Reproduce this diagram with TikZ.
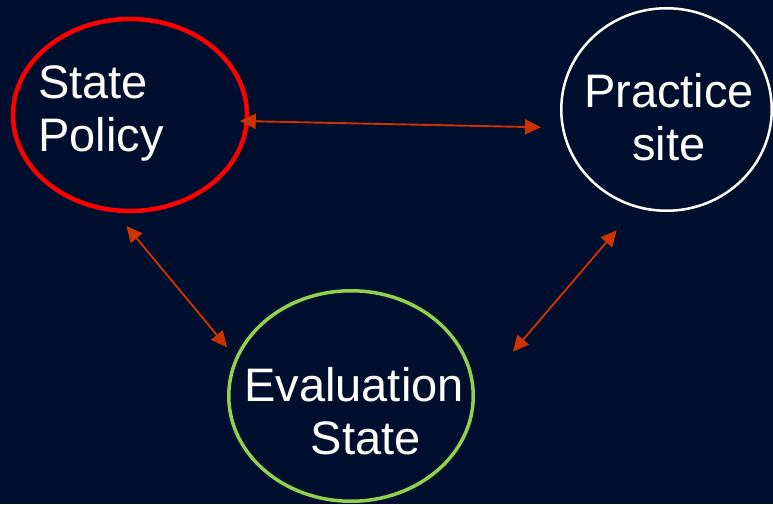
\documentclass[tikz,border=0pt]{standalone}
\usepackage{fontspec}
\setmainfont{Liberation Sans}
\usepackage{tikz}
\usetikzlibrary{arrows.meta,shapes.geometric}
\definecolor{navy}{HTML}{000F2E}
\definecolor{rust}{HTML}{CC3300}
\definecolor{leaf}{HTML}{92D050}

\begin{document}
\begin{tikzpicture}[x=1pt,y=1pt]
	\tikzstyle{oval}=[ellipse,inner sep=0pt,outer sep=0pt]
	\tikzstyle{words}=[text=white,inner sep=0pt,font=\fontsize{47}{53}\selectfont]
	\tikzstyle{link}=[rust,line width=1.9pt,{Triangle[length=16pt,width=15pt]}-{Triangle[length=16pt,width=15pt]}]
	\fill[navy] (0,0) rectangle (773,504);
	\useasboundingbox (0,0) rectangle (773,504);
	% the three circles
	\node[oval,draw=red,line width=4.5pt,minimum width=234pt,minimum height=192pt] (policy) at (130,389) {};
	\node[oval,draw=white,line width=2.5pt,minimum width=210.5pt,minimum height=202.5pt] (practice) at (666.5,394.5) {};
	\node[oval,draw=leaf,line width=3.5pt,minimum width=244.5pt,minimum height=210.5pt] (eval) at (351,108) {};
	% labels
	\node[words,align=left] (policytxt) at (101,391) {State\\Policy};
	\node[words,align=center] (practicetxt) at (669,387) {Practice\\site};
	\node[words,align=center] (evaltxt) at (354,93) {Evaluation\\\hspace*{0.5em}State};
	% two-way links
	\draw[link,shorten <=-7pt,shorten >=22pt] (policy.-3.5) -- (practice.190);
	\draw[link,shorten <=20.7pt,shorten >=15pt] (policy.260) -- (eval.162);
	\draw[link,shorten <=31pt,shorten >=61pt] (practice.253) -- (eval.-1);
\end{tikzpicture}
\end{document}
